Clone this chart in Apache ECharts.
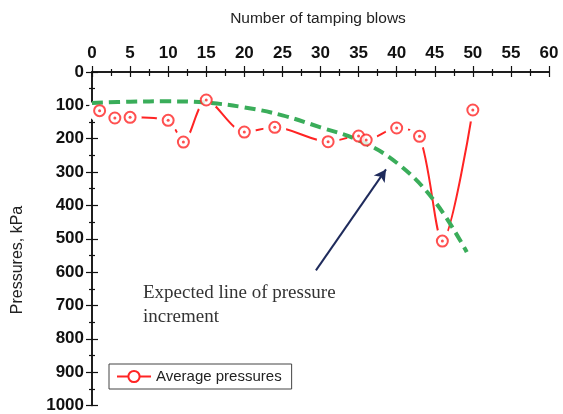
<!DOCTYPE html>
<html>
<head>
<meta charset="utf-8">
<script src="https://cdn.jsdelivr.net/npm/echarts@6/dist/echarts.min.js"></script>
<style>
html,body{margin:0;padding:0;background:#fff;}
#chart{width:563px;height:414px;}
</style>
</head>
<body>
<div id="chart"></div>
<script>
// Data
var blows = [1, 3, 5, 10, 12, 15, 20, 24, 31, 35, 36, 40, 43, 46, 50];
var pressures = [116, 138, 136, 145, 210, 84, 180, 166, 209, 192, 204, 168, 193, 507, 114];
var expectedX = [0, 5, 10, 15, 20, 25, 30, 35, 40, 45, 49.2];
var expectedY = [93, 89, 88, 92, 106, 130, 166, 205, 272, 388, 540];
var arrowStart = [29.4, 595];
var arrowEnd = [38.6, 292];
var xTicks = {min: 0, max: 60, interval: 5};
var yTicks = {min: 0, max: 1000, interval: 100};
var seriesName = 'Average pressures';
var annotation = ['Expected line of pressure', 'increment'];

var red = '#ff2424';
var pts = blows.map(function (b, i) { return [b, pressures[i]]; });
var exp = expectedX.map(function (x, i) { return [x, expectedY[i]]; });

var chart = echarts.init(document.getElementById('chart'));
var axisLine = {show: true, lineStyle: {color: '#111', width: 1.5}};
var tickStyle = {color: '#111', width: 1.2};
var labelFont = {fontFamily: 'Liberation Sans', fontWeight: 'bold', fontSize: 17, color: '#111'};
var plain = function (v) { return String(v); };

chart.setOption({
  animation: false,
  backgroundColor: '#fff',
  grid: {left: 92, right: 14, top: 72, bottom: 6},
  xAxis: [{
    type: 'value', position: 'top', min: xTicks.min, max: xTicks.max, interval: xTicks.interval,
    axisLine: axisLine,
    axisTick: {show: true, inside: true, length: 5, lineStyle: tickStyle},
    minorTick: {show: true, splitNumber: 2, length: 4, lineStyle: tickStyle},
    axisLabel: Object.assign({margin: 10, formatter: plain}, labelFont),
    splitLine: {show: false}
  }, {
    type: 'value', position: 'bottom', min: xTicks.min, max: xTicks.max, interval: xTicks.interval,
    axisLine: axisLine,
    axisTick: {show: true, inside: true, length: 6, lineStyle: tickStyle},
    minorTick: {show: true, splitNumber: 2, length: 3, lineStyle: tickStyle},
    axisLabel: {show: false},
    splitLine: {show: false}
  }],
  yAxis: [{
    type: 'value', inverse: true, position: 'left', min: yTicks.min, max: yTicks.max, interval: yTicks.interval,
    axisLine: axisLine,
    axisTick: {show: true, inside: true, length: 6, lineStyle: tickStyle},
    minorTick: {show: true, splitNumber: 2, length: 3, lineStyle: tickStyle},
    axisLabel: Object.assign({margin: 8, formatter: plain}, labelFont),
    splitLine: {show: false}
  }, {
    type: 'value', inverse: true, position: 'right', min: yTicks.min, max: yTicks.max, interval: yTicks.interval,
    axisLine: axisLine,
    axisTick: {show: true, inside: true, length: 6, lineStyle: tickStyle},
    minorTick: {show: true, splitNumber: 2, length: 3, lineStyle: tickStyle},
    axisLabel: {show: false},
    splitLine: {show: false}
  }],
  legend: {
    data: [seriesName],
    left: 109, top: 364,
    orient: 'horizontal',
    padding: [5, 10, 5, 7],
    itemWidth: 34, itemHeight: 14,
    borderColor: '#444', borderWidth: 1,
    textStyle: {fontFamily: 'Liberation Sans', fontSize: 15, color: '#222'}
  },
  series: [{
    name: seriesName, type: 'line', data: pts, smooth: 0.3,
    symbol: 'emptyCircle', symbolSize: 11, showSymbol: true,
    lineStyle: {color: red, width: 2},
    itemStyle: {color: red, borderColor: red, borderWidth: 2},
    z: 2
  }, {
    name: 'halo', type: 'scatter', data: pts, symbol: 'circle', symbolSize: 23,
    itemStyle: {color: '#fff', opacity: 1}, silent: true, z: 3
  }, {
    name: 'expected', type: 'line', data: exp, smooth: 0.4, showSymbol: false, symbol: 'none',
    lineStyle: {color: '#3aad5a', width: 4, type: [11, 6]},
    z: 4,
    markLine: {
      silent: true, symbol: ['none', 'arrow'], symbolSize: [10, 12],
      label: {show: false},
      lineStyle: {color: '#1f2b5c', width: 2, type: 'solid'},
      data: [[{coord: arrowStart}, {coord: arrowEnd}]]
    }
  }, {
    name: 'rings', type: 'scatter', data: pts, symbol: 'emptyCircle', symbolSize: 11,
    itemStyle: {color: red, borderColor: red, borderWidth: 2}, z: 5, silent: true
  }, {
    name: 'dots', type: 'scatter', data: pts, symbol: 'circle', symbolSize: 3,
    itemStyle: {color: red}, z: 6, silent: true
  }],
  graphic: [{
    type: 'text', x: 318, y: 19,
    style: {text: 'Number of tamping blows', fontFamily: 'Liberation Sans', fontSize: 15.5,
      fill: '#222', textAlign: 'center', textVerticalAlign: 'middle'}
  }, {
    type: 'text', x: 18, y: 260, rotation: Math.PI / 2,
    style: {text: 'Pressures, kPa', fontFamily: 'Liberation Sans', fontSize: 16,
      fill: '#222', textAlign: 'center', textVerticalAlign: 'middle'}
  }, {
    type: 'text', x: 143, y: 293,
    style: {text: annotation[0], fontFamily: 'Liberation Serif', fontSize: 19,
      fill: '#333', textAlign: 'left', textVerticalAlign: 'middle'}
  }, {
    type: 'text', x: 143, y: 317,
    style: {text: annotation[1], fontFamily: 'Liberation Serif', fontSize: 19,
      fill: '#333', textAlign: 'left', textVerticalAlign: 'middle'}
  }]
});
</script>
</body>
</html>
